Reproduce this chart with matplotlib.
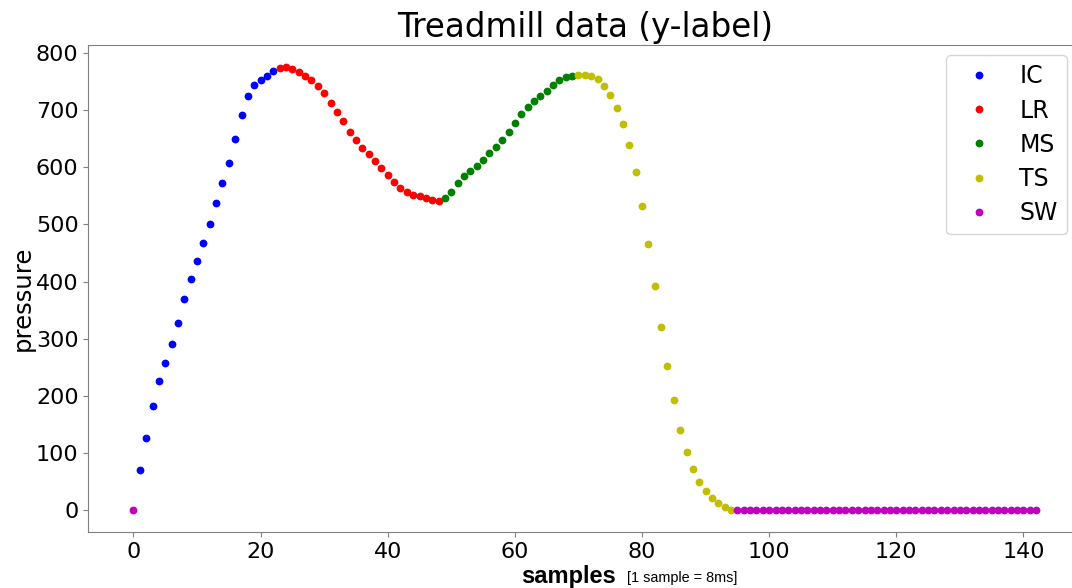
import matplotlib
matplotlib.use("Agg")
import matplotlib.pyplot as plt
import numpy as np

# pressure per sample
pressure = [
    0, 70, 127, 183, 226, 258, 291, 328, 369, 405,
    435, 468, 501, 537, 572, 608, 650, 691, 725, 744,
    752, 759, 768, 774, 775, 772, 766, 760, 753, 742,
    730, 713, 697, 680, 662, 647, 633, 623, 611, 599,
    586, 574, 564, 556, 552, 549, 546, 542, 541, 546,
    557, 572, 584, 593, 602, 613, 624, 636, 648, 662,
    677, 693, 705, 715, 724, 734, 744, 752, 757, 760,
    762, 762, 760, 754, 742, 726, 704, 675, 639, 591,
    532, 465, 392, 320, 253, 193, 141, 102, 72, 49,
    33, 21, 13, 6, 1,
] + [0] * 48

# gait phases: label, colour, (first sample, last sample) ranges
phase_names = ['IC', 'LR', 'MS', 'TS', 'SW']
phase_colors = ['b', 'r', 'g', 'y', 'm']
phase_ranges = [[(1, 22)], [(23, 48)], [(49, 69)], [(70, 94)], [(0, 0), (95, 142)]]

pressure = np.array(pressure)
samples = np.arange(len(pressure))

fig = plt.figure(figsize=(10.72, 5.88), dpi=100)
ax = fig.add_axes([88.3 / 1072, 55.7 / 588, 993 / 1072, 487.3 / 588])

for name, col, rngs in zip(phase_names, phase_colors, phase_ranges):
    idx = np.concatenate([np.arange(a, b + 1) for a, b in rngs])
    ax.plot(samples[idx], pressure[idx], col + 'o', ms=4.6, label=name)

ax.set_title('Treadmill data (y-label)', fontsize=23.5)
ax.set_ylabel('pressure', fontsize=17.5)
ax.yaxis.set_label_coords(-0.054, 0.48)
ax.tick_params(labelsize=16, color='0.5')
for s in ax.spines.values():
    s.set_color('0.5')

ax.legend(loc='upper right', bbox_to_anchor=(0.9856, 0.9795), borderaxespad=0,
          fontsize=17, handletextpad=0.7, borderpad=0.4, labelspacing=0.43)

fig.text(521 / 1072, 5 / 588, 'samples', fontsize=17, fontweight='bold',
         family='Liberation Sans')
fig.text(627 / 1072, 6 / 588, '[1 sample = 8ms]', fontsize=10.4,
         family='Liberation Sans')

fig.savefig('out.png', dpi=100)
